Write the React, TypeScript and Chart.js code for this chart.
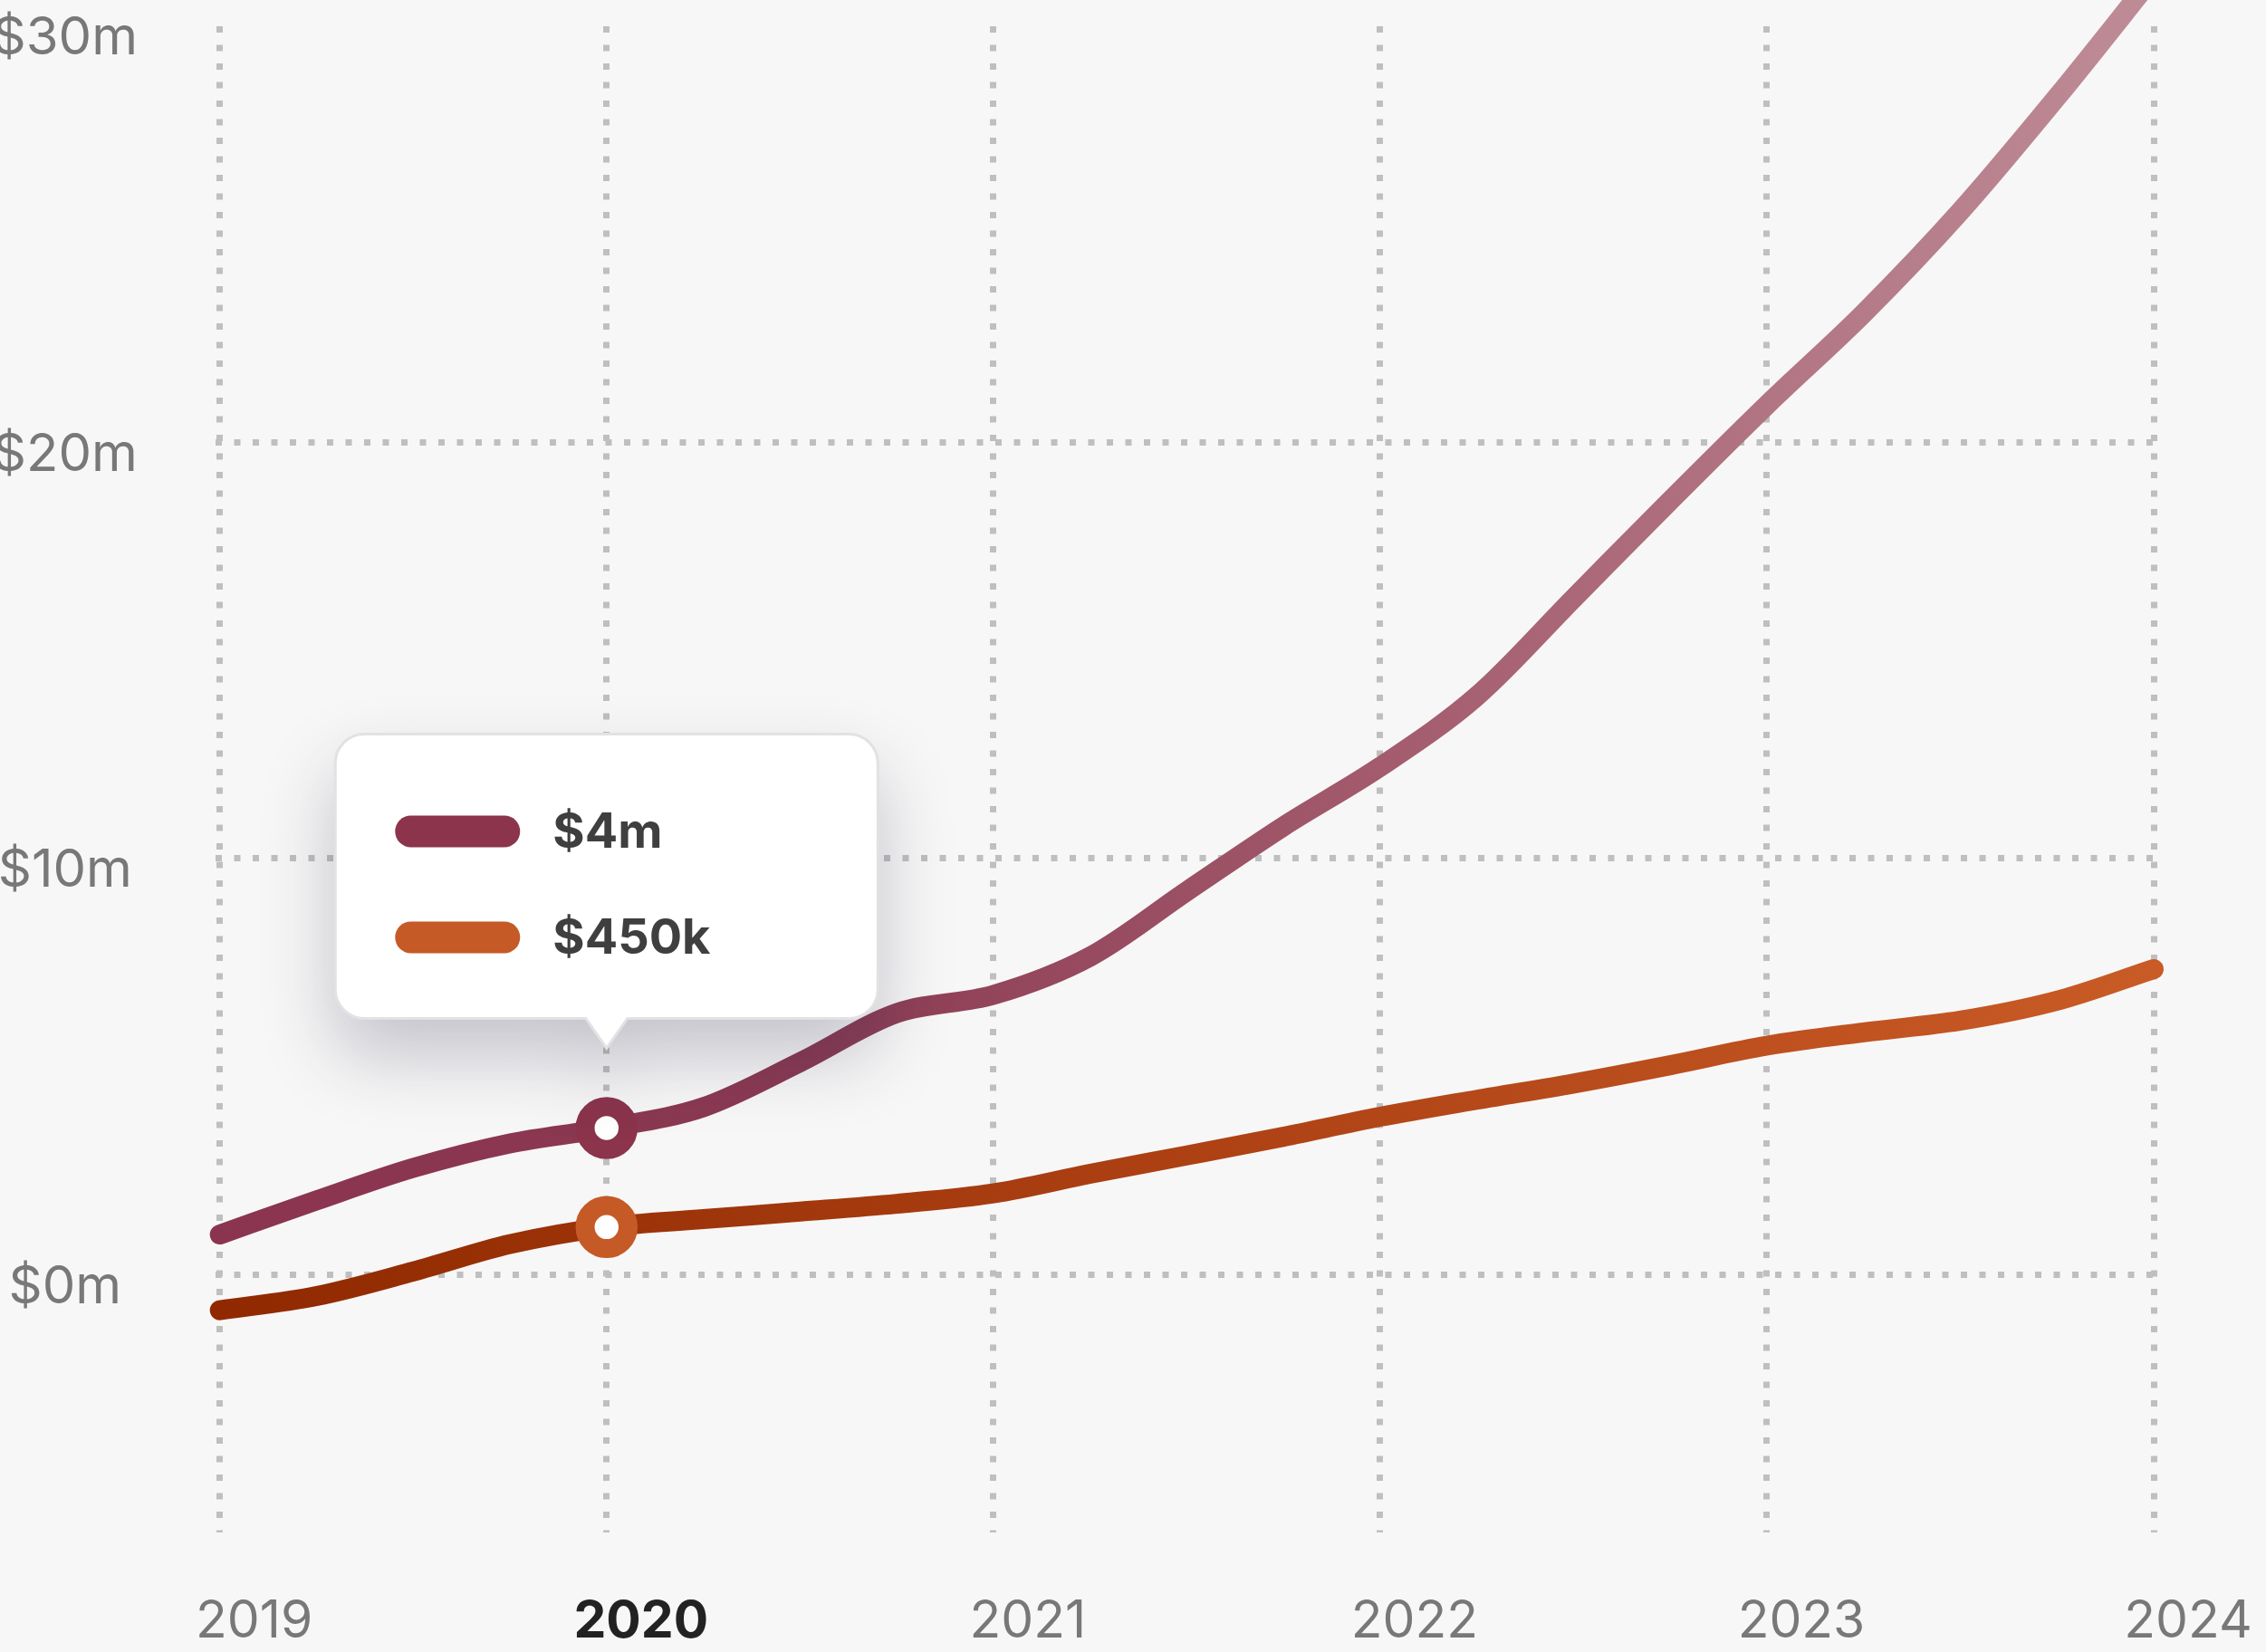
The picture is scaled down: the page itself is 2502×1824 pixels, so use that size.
import React, { useEffect, useRef } from "react";
import { Chart, registerables } from "chart.js";

Chart.register(...registerables);

// ---- data ----
const yearTicks = [2019, 2020, 2021, 2022, 2023, 2024];
const quarters = [
  2019, 2019.25, 2019.5, 2019.75,
  2020, 2020.25, 2020.5, 2020.75,
  2021, 2021.25, 2021.5, 2021.75,
  2022, 2022.25, 2022.5, 2022.75,
  2023, 2023.25, 2023.5, 2023.75,
  2024,
];
const seriesAValues = [
  0.96, 1.78, 2.56, 3.15,
  3.52, 4.02, 5.1, 6.28,
  6.72, 7.64, 9.21, 10.77,
  12.2, 13.9, 16.25, 18.6,
  20.9, 23.1, 25.55, 28.3,
  31.2,
];
const seriesBValues = [
  -0.86, -0.52, 0.07, 0.73,
  1.14, 1.33, 1.51, 1.7,
  1.95, 2.42, 2.86, 3.31,
  3.79, 4.2, 4.59, 5.03,
  5.5, 5.82, 6.1, 6.58,
  7.34,
];
const seriesNames = ["Series A", "Series B"];
const yTickValues = [0, 10, 20, 30];
const highlightYear = 2020;
const tooltipLabels = ["$4m", "$450k"];

// ---- styles ----
const FONT = "Inter";
const swatchColors = ["#8B344C", "#C55A27"];
const gridColor = "#BFBFBF";

function gradientFor(chart: any, stops: [number, string][], fallback: string) {
  const area = chart.chartArea;
  if (!area) return fallback;
  const g = chart.ctx.createLinearGradient(area.left, 0, area.right, 0);
  stops.forEach(([o, c]) => g.addColorStop(o, c));
  return g;
}

const bgPlugin = {
  id: "bg",
  beforeDraw(chart: any) {
    const c = chart.ctx;
    c.save();
    c.fillStyle = "#F7F7F7";
    c.fillRect(0, 0, chart.width, chart.height);
    c.restore();
  },
};

const tooltipPlugin = {
  id: "staticTooltip",
  afterDraw(chart: any) {
    const idx = quarters.indexOf(highlightYear);
    const p0 = chart.getDatasetMeta(0).data[idx];
    if (!p0) return;
    const ctx = chart.ctx;
    const tipX = p0.x;
    const tipY = p0.y - 88;
    const w = 599, h = 314, r = 32, caretW = 46, caretH = 33;
    const left = tipX - w / 2;
    const bottom = tipY - caretH;
    const top = bottom - h;
    ctx.save();
    ctx.beginPath();
    ctx.moveTo(left + r, top);
    ctx.lineTo(left + w - r, top);
    ctx.arcTo(left + w, top, left + w, top + r, r);
    ctx.lineTo(left + w, bottom - r);
    ctx.arcTo(left + w, bottom, left + w - r, bottom, r);
    ctx.lineTo(tipX + caretW / 2, bottom);
    ctx.lineTo(tipX, tipY);
    ctx.lineTo(tipX - caretW / 2, bottom);
    ctx.lineTo(left + r, bottom);
    ctx.arcTo(left, bottom, left, bottom - r, r);
    ctx.lineTo(left, top + r);
    ctx.arcTo(left, top, left + r, top, r);
    ctx.closePath();
    ctx.shadowColor = "rgba(40,40,70,0.25)";
    ctx.shadowBlur = 80;
    ctx.shadowOffsetY = 40;
    ctx.fillStyle = "#FFFFFF";
    ctx.fill();
    ctx.shadowColor = "transparent";
    ctx.shadowBlur = 0;
    ctx.shadowOffsetY = 0;
    ctx.lineWidth = 3;
    ctx.strokeStyle = "#E2E2E2";
    ctx.stroke();

    const rowsY = [top + 107.5, top + 224.5];
    tooltipLabels.forEach((label, i) => {
      const sy = rowsY[i];
      const sx = left + 66, sw = 138, sh = 35;
      ctx.beginPath();
      ctx.moveTo(sx + sh / 2, sy - sh / 2);
      ctx.lineTo(sx + sw - sh / 2, sy - sh / 2);
      ctx.arc(sx + sw - sh / 2, sy, sh / 2, -Math.PI / 2, Math.PI / 2);
      ctx.lineTo(sx + sh / 2, sy + sh / 2);
      ctx.arc(sx + sh / 2, sy, sh / 2, Math.PI / 2, (3 * Math.PI) / 2);
      ctx.closePath();
      ctx.fillStyle = swatchColors[i];
      ctx.fill();
      ctx.fillStyle = "#3F3F3F";
      ctx.font = `700 54px ${FONT}`;
      ctx.textAlign = "left";
      ctx.textBaseline = "middle";
      ctx.fillText(label, left + 240, sy + 2);
    });
    ctx.restore();
  },
};

const pointR = (ctx: any) => (quarters[ctx.dataIndex] === highlightYear ? 23.75 : 0);

export default function App() {
  const ref = useRef<HTMLCanvasElement>(null);
  useEffect(() => {
    document.body.style.margin = "0";
    document.body.style.background = "#F7F7F7";
    const chart = new Chart(ref.current as HTMLCanvasElement, {
      type: "line",
      data: {
        datasets: [
          {
            label: seriesNames[0],
            data: quarters.map((x, i) => ({ x, y: seriesAValues[i] })),
            borderColor: (c: any) =>
              gradientFor(
                c.chart,
                [
                  [0, "#8B3450"],
                  [0.3, "#8B3A53"],
                  [0.6, "#A35B6D"],
                  [0.8, "#B27583"],
                  [1, "#BE8D98"],
                ],
                "#8B3450"
              ),
            borderWidth: 22,
            borderCapStyle: "round",
            borderJoinStyle: "round",
            cubicInterpolationMode: "monotone",
            pointRadius: pointR,
            pointHoverRadius: pointR,
            pointBorderWidth: 21,
            pointHoverBorderWidth: 21,
            pointBackgroundColor: "#FFFFFF",
            pointBorderColor: swatchColors[0],
            clip: false,
          } as any,
          {
            label: seriesNames[1],
            data: quarters.map((x, i) => ({ x, y: seriesBValues[i] })),
            borderColor: (c: any) =>
              gradientFor(
                c.chart,
                [
                  [0, "#902900"],
                  [0.5, "#AD4114"],
                  [1, "#C95B26"],
                ],
                "#A33A0F"
              ),
            borderWidth: 22,
            borderCapStyle: "round",
            borderJoinStyle: "round",
            cubicInterpolationMode: "monotone",
            pointRadius: pointR,
            pointHoverRadius: pointR,
            pointBorderWidth: 21,
            pointHoverBorderWidth: 21,
            pointBackgroundColor: "#FFFFFF",
            pointBorderColor: swatchColors[1],
            clip: false,
          } as any,
        ],
      },
      options: {
        animation: false,
        responsive: false,
        events: [],
        layout: { padding: { top: 29, right: 112, left: 0, bottom: 0 } },
        plugins: { legend: { display: false }, tooltip: { enabled: false } },
        scales: {
          x: {
            type: "linear",
            min: 2018.989,
            max: 2024.028,
            afterBuildTicks: (s: any) => {
              s.ticks = yearTicks.map((v) => ({ value: v }));
            },
            afterFit: (s: any) => {
              s.height = 132;
              s.paddingLeft = 0;
              s.paddingRight = 0;
            },
            grid: { color: gridColor, lineWidth: 7, drawTicks: false },
            border: { display: false, dash: [7, 13.5] },
            ticks: {
              padding: 65,
              labelOffset: 38,
              maxRotation: 0,
              autoSkip: false,
              callback: (v: any) => String(v),
              color: (c: any) => (c.tick && c.tick.value === highlightYear ? "#222222" : "#787878"),
              font: (c: any) => ({
                family: FONT,
                size: 57,
                weight: c.tick && c.tick.value === highlightYear ? "700" : "400",
              }),
            },
          },
          y: {
            type: "linear",
            min: -6.2,
            max: 30,
            afterBuildTicks: (s: any) => {
              s.ticks = yTickValues.map((v) => ({ value: v }));
            },
            afterFit: (s: any) => {
              s.width = 238;
              s.paddingTop = 0;
              s.paddingBottom = 0;
            },
            grid: {
              color: (c: any) => (c.tick && c.tick.value === 30 ? "rgba(0,0,0,0)" : gridColor),
              lineWidth: 7,
              drawTicks: false,
            },
            border: { display: false, dash: [7, 13.5] },
            ticks: {
              padding: 86,
              crossAlign: "center",
              labelOffset: 14,
              callback: (v: any) => "$" + v + "m",
              color: "#787878",
              font: { family: FONT, size: 58, weight: "400" },
            },
          },
        },
      } as any,
      plugins: [bgPlugin, tooltipPlugin],
    });
    return () => chart.destroy();
  }, []);
  return (
    <div style={{ position: "fixed", left: 0, top: 0, width: 2502, height: 1824, background: "#F7F7F7" }}>
      <canvas ref={ref} width={2502} height={1824} style={{ display: "block", width: 2502, height: 1824 }} />
    </div>
  );
}
